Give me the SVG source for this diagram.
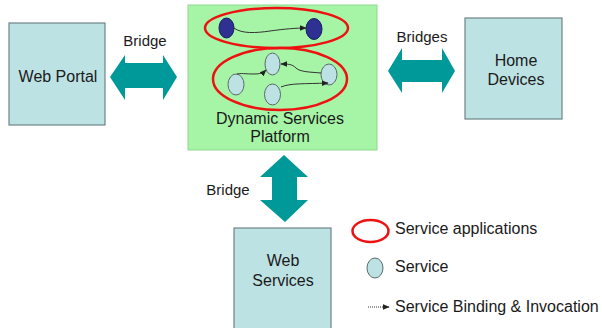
<svg xmlns="http://www.w3.org/2000/svg" width="602" height="328" viewBox="0 0 602 328">
<defs>
<style>
text{font-family:"Liberation Sans",Arial,sans-serif;font-size:16px;fill:#1a1a1a}
.lbl{text-anchor:middle}
.box{fill:#bde2e4;stroke:#6f8486;stroke-width:1.2}
.big{fill:#009999}
.app{fill:none;stroke:#ee1111;stroke-width:2.5}
.svc{fill:#bde2e4;stroke:#5a6a6c;stroke-width:1}
.dk{fill:#2e3192;stroke:#1a1d60;stroke-width:1}
.con{fill:none;stroke:#333;stroke-width:1;marker-end:url(#ah)}
</style>
<marker id="ah" viewBox="0 0 10 10" refX="9" refY="5" markerWidth="7" markerHeight="7" orient="auto" markerUnits="userSpaceOnUse">
<path d="M0,1 L10,5 L0,9 z" fill="#222"/>
</marker>
</defs>
<rect width="602" height="328" fill="#ffffff"/>
<g id="web-portal">
<rect class="box" x="9" y="23" width="96" height="102"/>
<text class="lbl" x="58" y="82">Web Portal</text>
</g>
<g id="home-devices">
<rect class="box" x="465" y="18" width="97" height="101"/>
<text class="lbl" x="516" y="66">Home</text>
<text class="lbl" x="516" y="85">Devices</text>
</g>
<g id="web-services">
<rect class="box" x="234" y="228" width="97" height="110"/>
<text class="lbl" x="283" y="266">Web</text>
<text class="lbl" x="283" y="286">Services</text>
</g>
<g id="platform">
<rect x="188" y="5" width="189" height="145" fill="#a6f5a6" stroke="#8fd88f" stroke-width="1"/>
<ellipse class="app" cx="276.5" cy="28" rx="71.5" ry="20"/>
<ellipse class="app" cx="280" cy="79" rx="67" ry="31"/>
<ellipse class="dk" cx="226.5" cy="28" rx="7.5" ry="10"/>
<ellipse class="dk" cx="314" cy="29" rx="8" ry="10.5"/>
<ellipse class="svc" cx="272.5" cy="64" rx="7.5" ry="11"/>
<ellipse class="svc" cx="236" cy="84.5" rx="8" ry="10.5"/>
<ellipse class="svc" cx="272.5" cy="94.5" rx="8" ry="10.5"/>
<ellipse class="svc" cx="329" cy="74.5" rx="8" ry="10.5"/>
<text class="lbl" x="280" y="124">Dynamic Services</text>
<text class="lbl" x="280" y="142">Platform</text>
</g>
<g id="connectors">
<polygon class="big" points="110,77 125,55 125,63 163,63 163,55 177,77 163,100 163,88 125,88 125,100"/>
<polygon class="big" points="388,71 402,48 402,60 442,60 442,48 455,71 442,93 442,82 402,82 402,93"/>
<polygon class="big" points="284,155 308,177 297,177 297,200 308,200 285,222 260,200 272,200 272,177 260,177"/>
<path class="con" d="M234,28 C242,34 256,33 270,31 C284,29 296,28 306,28"/>
<path class="con" d="M237,74 C240,73 246,74 254,74 C260,74 263,73 266,70"/>
<path class="con" d="M321,73 C310,72 300,72 296,68 C292,64 288,64 281,64"/>
<path class="con" d="M281,87 C290,83 305,84 328,83"/>
<text class="lbl" x="145" y="46" style="font-size:15px">Bridge</text>
<text class="lbl" x="422" y="42" style="font-size:15px">Bridges</text>
<text class="lbl" x="228" y="195" style="font-size:15px">Bridge</text>
</g>
<g id="legend">
<ellipse class="app" cx="370.5" cy="231" rx="18" ry="11"/>
<text x="395" y="234">Service applications</text>
<ellipse class="svc" cx="375" cy="268" rx="8" ry="10"/>
<text x="395" y="272">Service</text>
<line x1="368" y1="307" x2="389" y2="307" stroke="#333" stroke-width="1" stroke-dasharray="1,1" marker-end="url(#ah)"/>
<text x="395" y="312">Service Binding &amp; Invocation</text>
</g>
</svg>
